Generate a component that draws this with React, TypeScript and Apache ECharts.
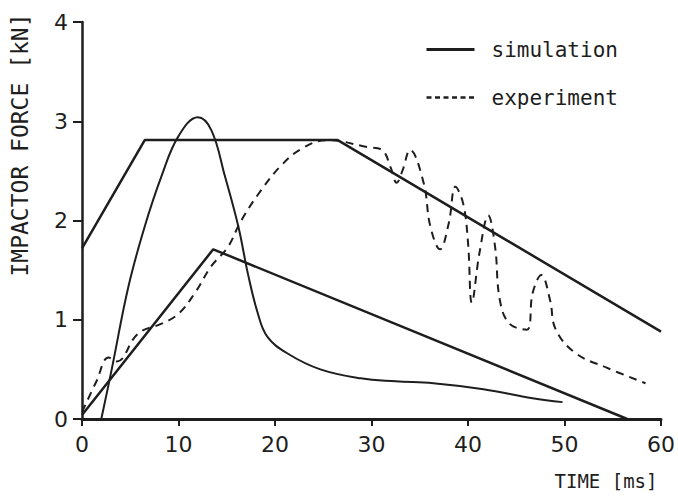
import React, { useEffect, useRef } from "react";
import * as echarts from "echarts";

const xTicks = [0, 10, 20, 30, 40, 50, 60];
const yTicks = [0, 1, 2, 3, 4];

// Upper bound (trapezoid)
const upperTime = [0, 6.5, 26.5, 60];
const upperForce = [1.72, 2.81, 2.81, 0.88];

// Lower bound (triangle)
const lowerTime = [0, 13.6, 56.5];
const lowerForce = [0.04, 1.71, 0];

// Simulation curve
const simTime = [2.0, 3.1, 4.8, 6.5, 8.25, 10.0, 12.0, 13.4, 14.8, 16.2, 17.2, 18.2, 19.2, 21.3, 24.7, 28.9, 32.5, 36.4, 41.6, 46.7, 49.8];
const simForce = [0.0, 0.51, 1.33, 1.94, 2.45, 2.85, 3.04, 2.91, 2.45, 1.94, 1.46, 1.07, 0.83, 0.66, 0.5, 0.41, 0.38, 0.36, 0.3, 0.21, 0.17];

// Experiment curve
const expTime = [0, 1.5, 2.75, 3.6, 5.8, 8.25, 10.0, 11.7, 13.4, 15.1, 16.5, 18.6, 20.6, 22.7, 25.4, 29.6, 31.1, 32.0, 32.6, 33.2, 34.0, 35.4, 36.1, 37.1, 38.0, 38.7, 39.5, 40.0, 40.4, 41.2, 42.1, 42.8, 43.3, 44.3, 46.1, 46.7, 47.6, 48.5, 49.1, 51.2, 54.3, 58.4];
const expForce = [0.07, 0.38, 0.62, 0.58, 0.86, 0.96, 1.06, 1.27, 1.54, 1.73, 2.0, 2.31, 2.55, 2.72, 2.81, 2.74, 2.71, 2.53, 2.38, 2.5, 2.71, 2.38, 1.94, 1.71, 1.97, 2.34, 2.17, 1.78, 1.17, 1.68, 2.05, 1.74, 1.2, 0.96, 0.9, 1.27, 1.45, 1.2, 0.9, 0.66, 0.52, 0.36];

const zip = (xs: number[], ys: number[]) => xs.map((x, i) => [x, ys[i]]);

const INK = "#1e1e1e";
const FONT = "DejaVu Sans";
const MONO = "DejaVu Sans Mono";

export default function App() {
  const ref = useRef<HTMLDivElement>(null);
  useEffect(() => {
    if (!ref.current) return;
    const chart = echarts.init(ref.current, undefined, { renderer: "svg" });
    chart.setOption({
      animation: false,
      backgroundColor: "#ffffff",
      grid: { left: 82, right: 16, top: 22, bottom: 77, containLabel: false },
      legend: {
        data: [
          { name: "simulation", lineStyle: { width: 3 } },
          { name: "experiment", lineStyle: { type: [5, 3.5], width: 2.5 } },
        ],
        orient: "vertical",
        left: 425,
        top: 39,
        padding: 0,
        itemGap: 27,
        itemWidth: 48,
        itemHeight: 20,
        itemStyle: { opacity: 0 },
        textStyle: { fontFamily: MONO, fontSize: 21, lineHeight: 20, color: INK, padding: [0, 0, 0, 12] },
      },
      xAxis: {
        type: "value",
        min: 0,
        max: 60,
        interval: 10,
        splitLine: { show: false },
        axisLine: { lineStyle: { color: INK, width: 3 } },
        axisTick: { show: true, length: 7, lineStyle: { color: INK, width: 2 } },
        axisLabel: {
          fontFamily: FONT,
          fontSize: 22,
          color: INK,
          margin: 14,
          formatter: (v: number) => (xTicks.includes(v) ? String(v) : ""),
        },
      },
      yAxis: {
        type: "value",
        min: 0,
        max: 4,
        interval: 1,
        splitLine: { show: false },
        axisLine: { show: true, lineStyle: { color: INK, width: 2.5 } },
        axisTick: { show: true, length: 9, lineStyle: { color: INK, width: 2 } },
        axisLabel: {
          fontFamily: FONT,
          fontSize: 22,
          color: INK,
          margin: 14,
          formatter: (v: number) => (yTicks.includes(v) ? String(v) : ""),
        },
      },
      graphic: [
        {
          type: "text",
          x: 20,
          y: 145,
          rotation: Math.PI / 2,
          style: {
            text: "IMPACTOR FORCE [kN]",
            fontFamily: MONO,
            fontSize: 23,
            fill: INK,
            align: "center",
            verticalAlign: "middle",
          },
        },
        {
          type: "text",
          x: 606,
          y: 481,
          style: {
            text: "TIME [ms]",
            fontFamily: MONO,
            fontSize: 19,
            fill: INK,
            align: "center",
            verticalAlign: "middle",
          },
        },
      ],
      series: [
        {
          name: "upper",
          type: "line",
          data: zip(upperTime, upperForce),
          symbol: "none",
          lineStyle: { color: INK, width: 2.5 },
          silent: true,
        },
        {
          name: "lower",
          type: "line",
          data: zip(lowerTime, lowerForce),
          symbol: "none",
          lineStyle: { color: INK, width: 2.5 },
          silent: true,
        },
        {
          name: "simulation",
          type: "line",
          data: zip(simTime, simForce),
          symbol: "none",
          smooth: 0.4,
          itemStyle: { color: INK },
          lineStyle: { color: INK, width: 2 },
        },
        {
          name: "experiment",
          type: "line",
          data: zip(expTime, expForce),
          symbol: "none",
          smooth: 0.4,
          itemStyle: { color: INK },
          lineStyle: { color: INK, width: 2, type: [8, 6] },
        },
      ],
    });
    return () => chart.dispose();
  }, []);
  return <div ref={ref} style={{ width: 678, height: 496, position: "absolute", left: 0, top: 0 }} />;
}
